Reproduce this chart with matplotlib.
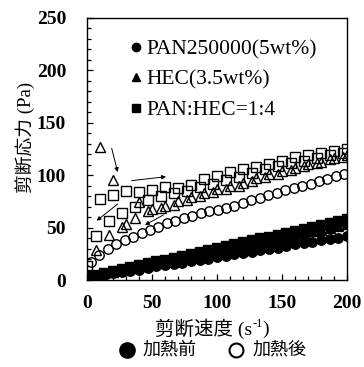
import matplotlib
matplotlib.use("Agg")
import matplotlib.pyplot as plt
from matplotlib.lines import Line2D
from matplotlib.transforms import offset_copy

plt.rcParams['font.family'] = ['Liberation Serif', 'Noto Sans CJK JP']

# before heating (filled), 31 points
x_pre = [0, 6.7, 13.3, 20, 26.7, 33.3, 40, 46.7, 53.3, 60, 66.7, 73.3, 80, 86.7, 93.3, 100,
         106.7, 113.3, 120, 126.7, 133.3, 140, 146.7, 153.3, 160, 166.7, 173.3, 180, 186.7, 193.3, 200]
pan_pre = [2, 3.5, 5, 6.5, 7.5, 9, 10, 11.5, 13, 14, 15.5, 16.5, 18, 19, 20.5, 22,
           23, 24.5, 26, 27, 28.5, 30, 31, 32.5, 34, 35, 36.5, 38, 39, 40.5, 42]
hec_pre = [3, 4.6, 6.3, 8, 9.6, 11.3, 13, 14.6, 16.3, 18, 19.6, 21.3, 23, 24.6, 26.3, 28,
           29.6, 31.3, 33, 34.6, 36.3, 38, 39.6, 41.3, 43, 44.6, 46.3, 48, 49.6, 51.3, 53]
mix_pre = [3, 4.8, 6.7, 8.5, 10.3, 12.2, 14, 15.8, 17.7, 19.5, 21.3, 23.2, 25, 26.8, 28.7, 30.5,
           32.3, 34.2, 36, 37.8, 39.7, 41.5, 43.3, 45.2, 47, 48.8, 50.7, 52.5, 54.3, 56.2, 58]

# after heating (open)
x_pan_post = [3, 9.5, 16, 22.5, 29, 35.5, 42, 48.5, 55, 61.5, 68, 74.5, 81, 87.5, 94, 100.5,
              107, 113.5, 120, 126.5, 133, 139.5, 146, 152.5, 159, 165.5, 172, 178.5, 185, 191.5, 198]
pan_post = [17.5, 24, 29.5, 34, 38, 41.5, 45, 48, 51, 54, 56.5, 59, 61.5, 63.5, 65.5, 66.5,
            68.5, 71, 73.5, 76, 78.5, 81, 83, 85.5, 88, 90, 92, 94.5, 96.5, 99, 101.5]

x_up = [10, 20, 30, 40, 50, 60, 70, 80, 90, 100, 110, 120, 130, 140, 150, 160, 170, 180, 190, 200]
x_dn = [7, 17, 27, 37, 47, 57, 67, 77, 87, 97, 107, 117, 127, 137, 147, 157, 167, 177, 187, 197]
hec_post_up = [127, 95, 53, 74, 68, 71, 75, 79, 83, 87, 90, 93, 97, 101, 104, 107, 111, 113, 116, 119]
hec_post_dn = [29, 43, 51, 59, 66, 69, 72, 76, 80, 84, 87, 90, 94, 98, 101, 105, 109, 112, 115, 117]

x_mix_up = [0, 10, 20, 30, 40, 50, 60, 70, 80, 90, 100, 110, 120, 130, 140, 150, 160, 170, 180, 190, 200]
mix_post_up = [13, 77, 81, 85, 84, 86, 89, 88, 91, 96, 99, 103, 106, 108, 111, 114, 117, 119, 121, 123, 125]
mix_post_dn = [42, 56, 64, 70, 76, 80, 83, 85, 89, 92, 95, 98, 102, 106, 109, 112, 114, 116, 119, 121]

fig = plt.figure(figsize=(3.64, 3.67), dpi=100)
ax = fig.add_axes([0.239, 0.237, 0.714, 0.714])

kw = dict(ls='none', color='k', mew=1.0)
ax.plot(x_pre, pan_pre, marker='o', ms=6.8, **kw)
ax.plot(x_pre, hec_pre, marker='^', ms=7.2, **kw)
ax.plot(x_pre, mix_pre, marker='s', ms=7.2, **kw)
ax.plot(x_pan_post, pan_post, marker='o', ms=6.8, mfc='none', **kw)
ax.plot(x_up, hec_post_up, marker='^', ms=7.2, mfc='none', **kw)
ax.plot(x_dn, hec_post_dn, marker='^', ms=7.2, mfc='none', **kw)
ax.plot(x_mix_up, mix_post_up, marker='s', ms=7.2, mfc='none', **kw)
ax.plot(x_dn, mix_post_dn, marker='s', ms=7.2, mfc='none', **kw)

# arrows for sweep direction
ap = dict(arrowstyle='-|>', color='k', lw=0.7, mutation_scale=6, shrinkA=0, shrinkB=0)
ax.annotate('', xy=(23.6, 103), xytext=(19, 125.7), arrowprops=ap)
ax.annotate('', xy=(60.8, 98.6), xytext=(34.4, 94.8), arrowprops=ap)
ax.annotate('', xy=(7.4, 56.6), xytext=(23.6, 72.5), arrowprops=ap)
ax.annotate('', xy=(44.6, 52.5), xytext=(58.7, 62), arrowprops=ap)

ax.set_xlim(0, 200)
ax.set_ylim(0, 250)
ax.set_xticks([0, 50, 100, 150, 200])
ax.set_yticks([0, 50, 100, 150, 200, 250])
ax.set_xticks(range(0, 201, 10), minor=True)
ax.set_yticks(range(0, 251, 10), minor=True)
ax.tick_params(which='both', direction='in', width=0.9)
ax.tick_params(which='major', length=4)
ax.tick_params(which='minor', length=3)
ax.tick_params(axis='y', which='major', pad=15)
ax.tick_params(axis='x', which='major', pad=11)
for lab in ax.get_xticklabels() + ax.get_yticklabels():
    lab.set_fontsize(14)
    lab.set_fontweight('bold')
for s in ax.spines.values():
    s.set_linewidth(1)

handles = [Line2D([], [], marker=m, color='k', ls='none', ms=6) for m in ['o', '^', 's']]
ax.legend(handles, ['PAN250000(5wt%)', 'HEC(3.5wt%)', 'PAN:HEC=1:4'],
          loc='upper left', bbox_to_anchor=(0.125, 0.96), frameon=False,
          fontsize=15.5, handlelength=0.5, handletextpad=0.25, labelspacing=0.48,
          borderpad=0)

fig.text(25 / 364, 1 - 137 / 367, '剪断応力 (Pa)', rotation=90, ha='center', va='center',
         fontsize=13.5)

# x label: CJK text with a serif superscript
renderer = fig.canvas.get_renderer()
x0, y0 = 155 / 364, 1 - 329 / 367
t1 = fig.text(x0, y0, '剪断速度 (s', ha='left', va='center', fontsize=14)
w1 = t1.get_window_extent(renderer).width
t2 = fig.text(x0, y0, '-1', ha='left', va='center', fontsize=9,
              transform=offset_copy(fig.transFigure, fig=fig, x=w1, y=5, units='dots'))
w2 = t2.get_window_extent(renderer).width
fig.text(x0, y0, ')', ha='left', va='center', fontsize=14,
         transform=offset_copy(fig.transFigure, fig=fig, x=w1 + w2, y=0, units='dots'))

# heating legend below the axes
fig.add_artist(Line2D([127 / 364], [1 - 350 / 367], transform=fig.transFigure, marker='o',
                      ms=11, color='k', ls='none'))
fig.add_artist(Line2D([236 / 364], [1 - 350 / 367], transform=fig.transFigure, marker='o',
                      ms=10, mfc='none', mew=1.5, color='k', ls='none'))
fig.text(143 / 364, 1 - 350 / 367, '加熱前', ha='left', va='center', fontsize=13)
fig.text(253 / 364, 1 - 350 / 367, '加熱後', ha='left', va='center', fontsize=13)

fig.savefig('out.png', dpi=100)
